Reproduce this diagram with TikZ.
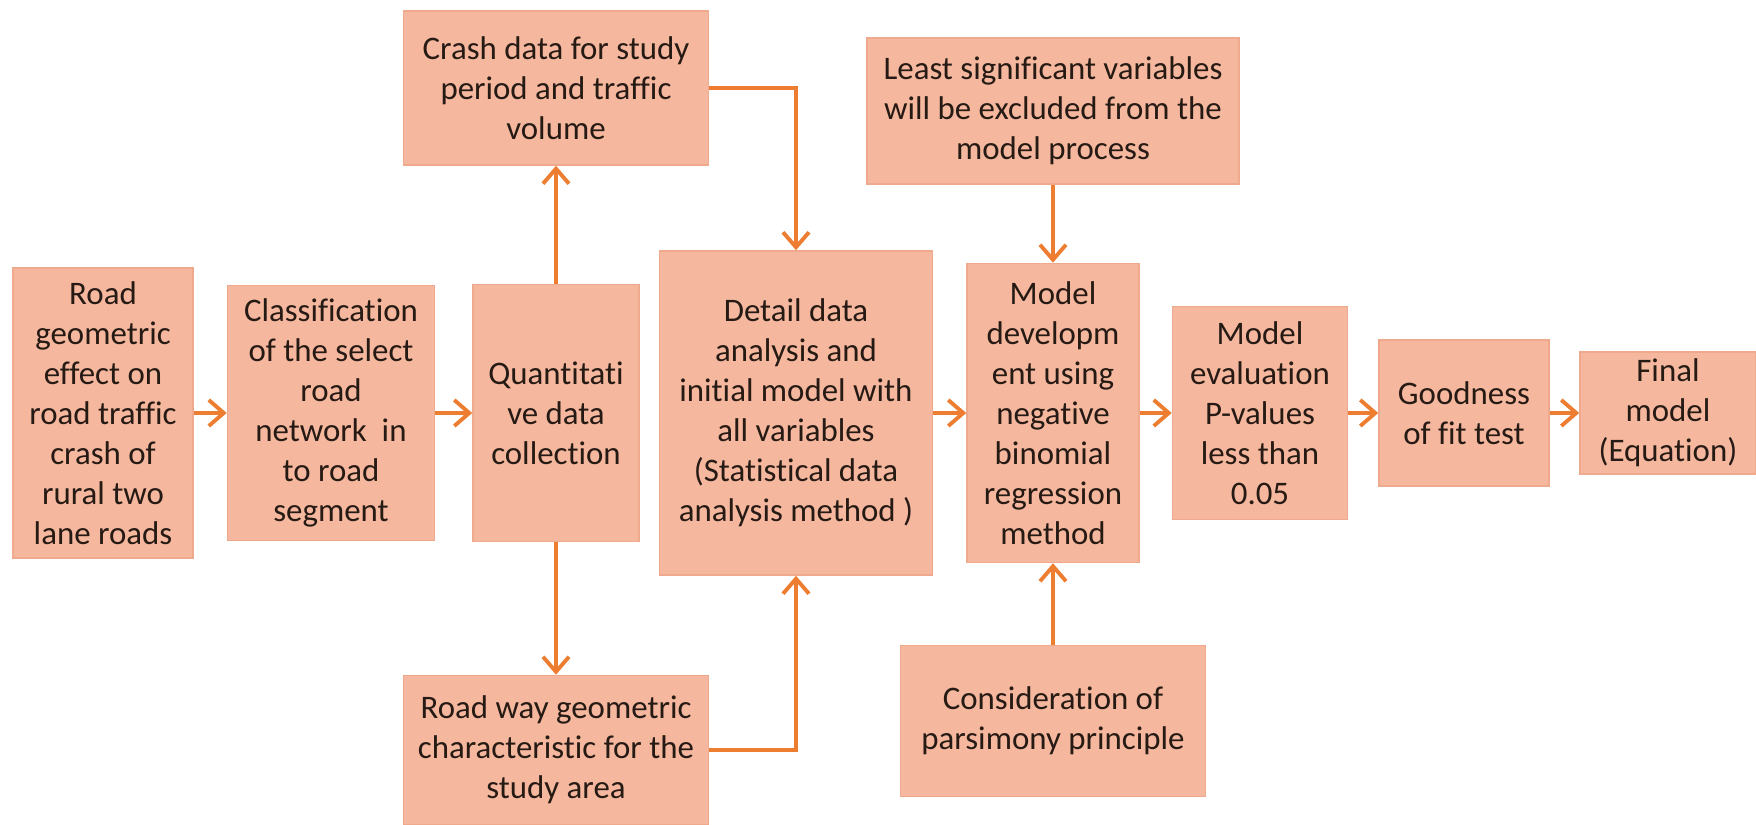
\documentclass[tikz,border=0pt]{standalone}
\usepackage{fontspec}
\setmainfont{Carlito}[Ligatures=NoCommon]
\usetikzlibrary{arrows.meta}
\definecolor{boxfill}{RGB}{245,183,157}
\definecolor{boxline}{RGB}{239,170,142}
\definecolor{arrowc}{RGB}{237,125,49}
\definecolor{txt}{RGB}{38,26,20}

\begin{document}
\begin{tikzpicture}[x=0.01cm, y=-0.01cm,
    box/.style={draw=boxline, fill=boxfill, rectangle, align=center, inner sep=0pt, text=txt, font=\fontsize{9.35}{11.4}\selectfont},
    arr/.style={draw=arrowc, line width=1.1pt, -{Straight Barb[length=1.5mm, width=2.6mm]}}]
    \useasboundingbox (0,0) rectangle (1756,825);

    % Main row
    \node[box, minimum width=1.80cm, minimum height=2.90cm] (road) at (103,413) {Road\\geometric\\effect on\\road traffic\\crash of\\rural two\\lane roads};
    \node[box, minimum width=2.07cm, minimum height=2.55cm] (classif) at (331,413) {Classification\\of the select\\road\\network~ in\\to road\\segment};
    \node[box, minimum width=1.66cm, minimum height=2.57cm] (quant) at (556,413) {Quantitati\\ve data\\collection};
    \node[box, minimum width=2.73cm, minimum height=3.24cm] (detail) at (796,413) {Detail data\\analysis and\\initial model with\\all variables\\(Statistical data\\analysis method )};
    \node[box, minimum width=1.72cm, minimum height=2.99cm] (modeldev) at (1053,413) {Model\\developm\\ent using\\negative\\binomial\\regression\\method};
    \node[box, minimum width=1.75cm, minimum height=2.13cm] (evalbox) at (1260,413) {Model\\evaluation\\P-values\\less than\\0.05};
    \node[box, minimum width=1.70cm, minimum height=1.46cm] (goodness) at (1464,413) {Goodness\\of fit test};
    \node[box, minimum width=1.76cm, minimum height=1.22cm] (final) at (1668,413) {Final\\model\\(Equation)};

    % Upper and lower boxes
    \node[box, minimum width=3.05cm, minimum height=1.54cm] (crash) at (556,88) {Crash data for study\\period and traffic\\volume};
    \node[box, minimum width=3.05cm, minimum height=1.49cm] (roadway) at (556,750) {Road way geometric\\characteristic for the\\study area};
    \node[box, minimum width=3.72cm, minimum height=1.46cm] (least) at (1053,111) {Least significant variables\\will be excluded from the\\model process};
    \node[box, minimum width=3.05cm, minimum height=1.51cm] (consid) at (1053,721) {Consideration of\\parsimony principle};

    % Connectors
    \draw[arr] (road) -- (classif);
    \draw[arr] (classif) -- (quant);
    \draw[arr] (quant) -- (crash);
    \draw[arr] (quant) -- (roadway);
    \draw[arr] (crash) -| (detail);
    \draw[arr] (roadway) -| (detail);
    \draw[arr] (detail) -- (modeldev);
    \draw[arr] (least) -- (modeldev);
    \draw[arr] (consid) -- (modeldev);
    \draw[arr] (modeldev) -- (evalbox);
    \draw[arr] (evalbox) -- (goodness);
    \draw[arr] (goodness) -- (final);

\end{tikzpicture}
\end{document}
